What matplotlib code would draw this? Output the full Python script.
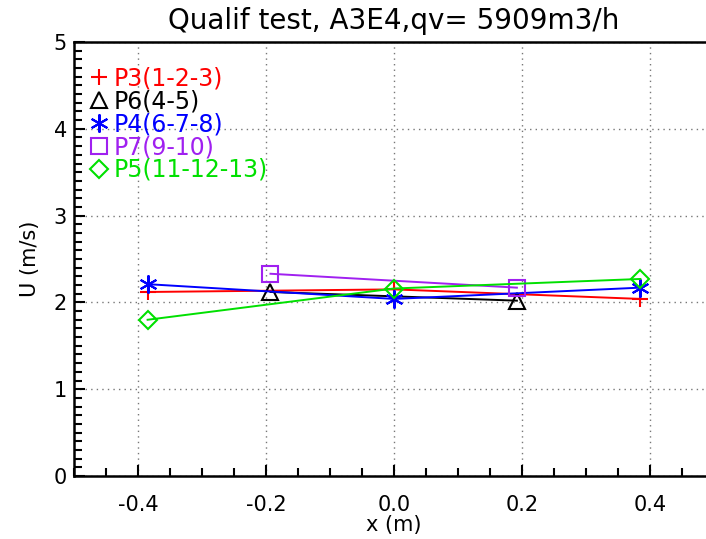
import matplotlib
matplotlib.use('Agg')
import matplotlib.pyplot as plt
from matplotlib.lines import Line2D
from matplotlib.ticker import MultipleLocator, FormatStrFormatter

# positions (m) and velocities (m/s)
x3 = [-0.385, 0.0, 0.385]
x2 = [-0.193, 0.192]

p3 = [2.12, 2.15, 2.04]
p6 = [2.12, 2.02]
p4 = [2.21, 2.04, 2.17]
p7 = [2.33, 2.17]
p5 = [1.80, 2.16, 2.27]

labels = ['P3(1-2-3)', 'P6(4-5)', 'P4(6-7-8)', 'P7(9-10)', 'P5(11-12-13)']
colors = ['#ff0000', '#000000', '#0000ff', '#a020f0', '#00e000']
markers = ['+', '^', (6, 2, 0), 's', 'D']
sizes = [12, 11, 13, 11, 9]

series = [(x3, p3), (x2, p6), (x3, p4), (x2, p7), (x3, p5)]

plt.rcParams['font.family'] = 'DejaVu Sans'

fig = plt.figure(figsize=(7.06, 5.39), dpi=100)
ax = fig.add_axes([74 / 706, 63 / 539, 640 / 706, 434 / 539])

for (xs, ys), c, m, s in zip(series, colors, markers, sizes):
    ax.plot(xs, ys, color=c, lw=1.4, marker=m, ms=s, mfc='none', mec=c, mew=1.5)

ax.set_xlim(-0.5, 0.5)
ax.set_ylim(0, 5)
ax.xaxis.set_major_locator(MultipleLocator(0.2))
ax.xaxis.set_minor_locator(MultipleLocator(0.05))
ax.yaxis.set_major_locator(MultipleLocator(1))
ax.yaxis.set_minor_locator(MultipleLocator(0.1))
ax.xaxis.set_major_formatter(FormatStrFormatter('%.1f'))
ax.tick_params(which='both', direction='in', top=False, right=False,
               labelsize=15, width=1.5, color='black')
ax.tick_params(axis='x', which='major', length=8, pad=14)
ax.tick_params(axis='y', which='major', length=8, pad=5)
ax.tick_params(which='minor', length=6)
ax.grid(True, which='major', color='#777777', linestyle=(0, (1, 3)), lw=1)
for sp in ax.spines.values():
    sp.set_linewidth(1.8)

ax.set_xlabel('x (m)', fontsize=15, labelpad=0)
ax.set_ylabel('U (m/s)', fontsize=15, labelpad=10)
ax.set_title('Qualif test, A3E4,qv= 5909m3/h', fontsize=20, pad=9)

handles = [Line2D([], [], color=c, marker=m, ms=s, mfc='none', mec=c,
                  mew=1.5, linestyle='none')
           for c, m, s in zip(colors, markers, sizes)]
ax.legend(handles, labels, loc='upper left', bbox_to_anchor=(0.01, 0.965),
          frameon=False, fontsize=17, handlelength=0.8, handletextpad=0.2,
          labelspacing=-0.05, borderaxespad=0, labelcolor='linecolor')

fig.savefig('out.png', dpi=100)
